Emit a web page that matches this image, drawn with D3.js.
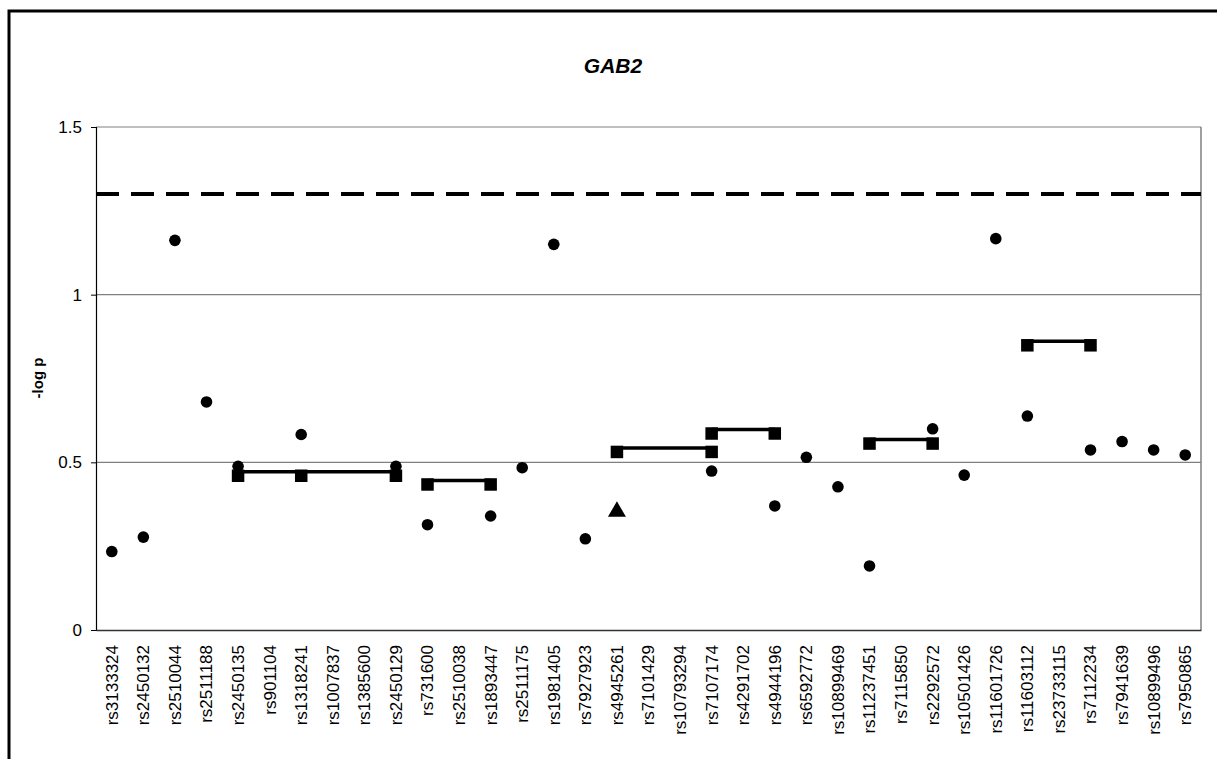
<!DOCTYPE html>
<html>
<head>
<meta charset="utf-8">
<script src="https://cdn.jsdelivr.net/npm/d3@7"></script>
<style>
  body { margin: 0; background: #fff; }
  text { font-family: "Liberation Sans", Arial, sans-serif; fill: #000; }
</style>
</head>
<body>
<div id="chart"></div>
<script>
/// DATA ///
const snps = [
  "rs3133324", "rs2450132", "rs2510044", "rs2511188", "rs2450135", "rs901104",
  "rs1318241", "rs1007837", "rs1385600", "rs2450129", "rs731600", "rs2510038",
  "rs1893447", "rs2511175", "rs1981405", "rs7927923", "rs4945261", "rs7101429",
  "rs10793294", "rs7107174", "rs4291702", "rs4944196", "rs6592772", "rs10899469",
  "rs11237451", "rs7115850", "rs2292572", "rs10501426", "rs11601726", "rs11603112",
  "rs23733115", "rs7112234", "rs7941639", "rs10899496", "rs7950865",
];

// single marker -log p (null = not tested)
const singleValues = [
  0.234, 0.277, 1.162, 0.680, 0.488, null,
  0.583, null, null, 0.488, 0.314, null,
  0.340, 0.484, 1.150, 0.272, null, null,
  null, 0.474, null, 0.370, 0.515, 0.427,
  0.191, null, 0.600, 0.462, 1.167, 0.638,
  null, 0.537, 0.562, 0.537, 0.522,
];

// haplotype windows (squares joined by a line)
const hapSnps = [
  ["rs2450135", "rs1318241", "rs2450129"],
  ["rs731600", "rs1893447"],
  ["rs4945261", "rs7107174"],
  ["rs7107174", "rs4944196"],
  ["rs11237451", "rs2292572"],
  ["rs11603112", "rs7112234"],
];
const hapValues = [0.460, 0.434, 0.531, 0.586, 0.556, 0.849];

// triangle marker
const triangleSnps = ["rs4945261"];
const triangleValues = [0.356];

const thresholdValue = 1.3; // p = 0.05
const yTicks = [0, 0.5, 1, 1.5];
const yTickLabels = ["0", "0.5", "1", "1.5"];
const chartTitle = "GAB2";
const yLabel = "-log p";

/// LAYOUT ///
const W = 1217, H = 759;
const plot = { left: 96, right: 1201, top: 127, bottom: 630 };

const svg = d3
  .select("#chart")
  .append("svg")
  .attr("width", W)
  .attr("height", H);

// outer frame (runs off the right and bottom edges)
svg
  .append("rect")
  .attr("x", 9)
  .attr("y", 11)
  .attr("width", W + 20)
  .attr("height", H + 20)
  .attr("fill", "none")
  .attr("stroke", "#000")
  .attr("stroke-width", 3);

const x = d3
  .scaleBand()
  .domain(snps)
  .range([plot.left, plot.right]);

const y = d3
  .scaleLinear()
  .domain([0, 1.5])
  .range([plot.bottom, plot.top]);

const cx = (s) => x(s) + x.bandwidth() / 2;

// gridlines
svg
  .append("g")
  .selectAll("line")
  .data(yTicks.filter((d) => d > 0))
  .enter()
  .append("line")
  .attr("x1", plot.left)
  .attr("x2", plot.right)
  .attr("y1", (d) => y(d))
  .attr("y2", (d) => y(d))
  .attr("stroke", "#808080")
  .attr("stroke-width", 1.2);

// right border of plot area
svg
  .append("line")
  .attr("x1", plot.right)
  .attr("x2", plot.right)
  .attr("y1", plot.top)
  .attr("y2", plot.bottom)
  .attr("stroke", "#808080")
  .attr("stroke-width", 1.5);

// y axis
const yAxis = svg
  .append("g")
  .attr("transform", `translate(${plot.left},0)`)
  .call(
    d3
      .axisLeft(y)
      .tickValues(yTicks)
      .tickFormat((d, i) => yTickLabels[i])
      .tickSize(5)
      .tickPadding(9)
  );
yAxis.select(".domain").attr("stroke", "#000").attr("stroke-width", 1.2);
yAxis.selectAll(".tick line").attr("stroke", "#000");
yAxis
  .selectAll("text")
  .style("font-family", '"Liberation Sans", Arial, sans-serif')
  .style("font-size", "17px");

// x axis
const xAxis = svg
  .append("g")
  .attr("transform", `translate(0,${plot.bottom})`)
  .call(d3.axisBottom(x).tickSize(0).tickPadding(0));
xAxis.select(".domain").attr("stroke", "#333").attr("stroke-width", 1.5);
xAxis
  .selectAll("text")
  .style("font-family", '"Liberation Sans", Arial, sans-serif')
  .style("font-size", "17px")
  .style("text-anchor", "end")
  .attr("transform", "rotate(-90)")
  .attr("x", -15)
  .attr("y", 0)
  .attr("dy", "0.35em");

// threshold dashed line
svg
  .append("line")
  .attr("x1", plot.left)
  .attr("x2", plot.right)
  .attr("y1", y(thresholdValue))
  .attr("y2", y(thresholdValue))
  .attr("stroke", "#000")
  .attr("stroke-width", 4)
  .attr("stroke-dasharray", "23,12");

// haplotype lines (drawn a little above the square centres, as in Excel)
const lineOffset = -4;
hapSnps.forEach((group, i) => {
  svg
    .append("line")
    .attr("x1", cx(group[0]))
    .attr("x2", cx(group[group.length - 1]))
    .attr("y1", y(hapValues[i]) + lineOffset)
    .attr("y2", y(hapValues[i]) + lineOffset)
    .attr("stroke", "#000")
    .attr("stroke-width", 3.5);
});

// haplotype squares
const sq = 12.5;
const squares = hapSnps.flatMap((group, i) =>
  group.map((s) => ({ snp: s, value: hapValues[i] }))
);
svg
  .append("g")
  .selectAll("rect")
  .data(squares)
  .enter()
  .append("rect")
  .attr("x", (d) => cx(d.snp) - sq / 2)
  .attr("y", (d) => y(d.value) - sq / 2)
  .attr("width", sq)
  .attr("height", sq)
  .attr("fill", "#000");

// single marker circles
svg
  .append("g")
  .selectAll("circle")
  .data(snps.map((s, i) => ({ snp: s, value: singleValues[i] })).filter((d) => d.value != null))
  .enter()
  .append("circle")
  .attr("cx", (d) => cx(d.snp))
  .attr("cy", (d) => y(d.value))
  .attr("r", 5.8)
  .attr("fill", "#000");

// triangle
const tri = d3.symbol().type(d3.symbolTriangle).size(140);
svg
  .append("g")
  .selectAll("path")
  .data(triangleSnps.map((s, i) => ({ snp: s, value: triangleValues[i] })))
  .enter()
  .append("path")
  .attr("d", tri)
  .attr("transform", (d) => `translate(${cx(d.snp)},${y(d.value) + 1})`)
  .attr("fill", "#000");

// title
svg
  .append("text")
  .attr("x", 613)
  .attr("y", 73)
  .attr("text-anchor", "middle")
  .style("font-size", "21px")
  .style("font-weight", "bold")
  .style("font-style", "italic")
  .text(chartTitle);

// y label
svg
  .append("text")
  .attr("transform", "translate(38,378) rotate(-90)")
  .attr("text-anchor", "middle")
  .attr("dy", "0.35em")
  .style("font-size", "15px")
  .style("font-weight", "bold")
  .text(yLabel);
</script>
</body>
</html>
